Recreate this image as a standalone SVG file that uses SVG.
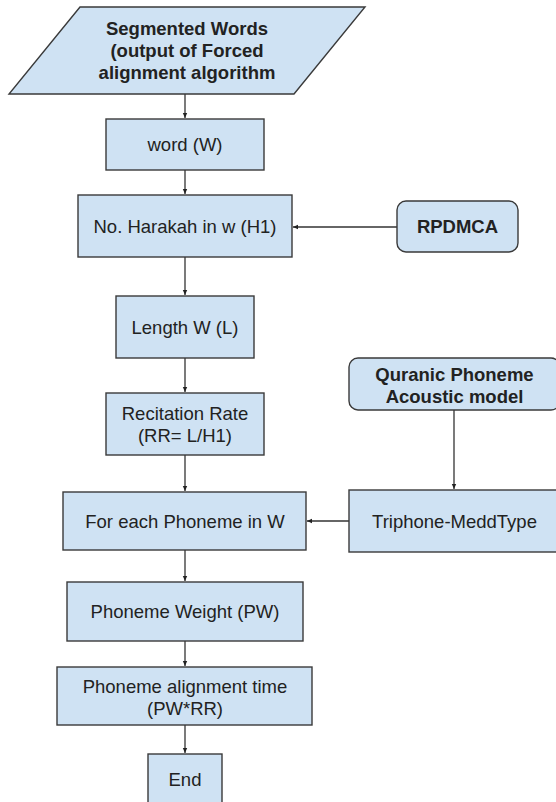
<svg xmlns="http://www.w3.org/2000/svg" width="556" height="802" viewBox="0 0 556 802">
<defs>
<marker id="ah" markerWidth="6" markerHeight="6" refX="5" refY="3" orient="auto" markerUnits="userSpaceOnUse">
<path d="M0,0.8 L5,3 L0,5.2 Z" fill="#222"/>
</marker>
</defs>
<style>
.n{fill:#cfe2f3;stroke:#3a3a3a;stroke-width:1.4}
.t{font-family:"Liberation Sans",Arial,sans-serif;font-size:18.5px;fill:#222;text-anchor:middle}
.b{font-weight:bold}
.c{stroke:#333;stroke-width:1.3;fill:none;marker-end:url(#ah)}
</style>
<rect width="556" height="802" fill="#ffffff"/>
<g id="connectors">
<line class="c" x1="185" y1="94" x2="185" y2="118"/>
<line class="c" x1="185" y1="170" x2="185" y2="194"/>
<line class="c" x1="185" y1="257" x2="185" y2="295"/>
<line class="c" x1="185" y1="358" x2="185" y2="392"/>
<line class="c" x1="185" y1="455" x2="185" y2="491"/>
<line class="c" x1="185" y1="550" x2="185" y2="581"/>
<line class="c" x1="185" y1="641" x2="185" y2="666"/>
<line class="c" x1="185" y1="725" x2="185" y2="753"/>
<line class="c" x1="397" y1="227" x2="293" y2="227"/>
<line class="c" x1="454" y1="410" x2="454" y2="489"/>
<line class="c" x1="349" y1="521" x2="307" y2="521"/>
</g>
<g id="segmented">
<polygon class="n" points="80,7 365,7 294,94 9,94"/>
<text class="t b" x="187" y="35">Segmented Words</text>
<text class="t b" x="187" y="57">(output of Forced</text>
<text class="t b" x="187" y="79">alignment algorithm</text>
</g>
<g id="word">
<rect class="n" x="106" y="119" width="158" height="51"/>
<text class="t" x="185" y="151">word (W)</text>
</g>
<g id="harakah">
<rect class="n" x="78" y="195" width="214" height="62"/>
<text class="t" x="185" y="233">No. Harakah in w (H1)</text>
</g>
<g id="rpdmca">
<rect class="n" x="397" y="201" width="121" height="51" rx="9"/>
<text class="t b" x="457.5" y="233">RPDMCA</text>
</g>
<g id="length">
<rect class="n" x="116" y="296" width="138" height="62"/>
<text class="t" x="185" y="333.5">Length W (L)</text>
</g>
<g id="rate">
<rect class="n" x="106" y="393" width="158" height="62"/>
<text class="t" x="185" y="419.5">Recitation Rate</text>
<text class="t" x="185" y="442">(RR= L/H1)</text>
</g>
<g id="quranic">
<rect class="n" x="349" y="358" width="211" height="52" rx="9"/>
<text class="t b" x="454.5" y="381">Quranic Phoneme</text>
<text class="t b" x="454.5" y="403">Acoustic model</text>
</g>
<g id="triphone">
<rect class="n" x="349" y="490" width="212" height="62"/>
<text class="t" x="454.5" y="527.5">Triphone-MeddType</text>
</g>
<g id="foreach">
<rect class="n" x="63" y="492" width="243" height="58"/>
<text class="t" x="185" y="527.5">For each Phoneme in W</text>
</g>
<g id="weight">
<rect class="n" x="67" y="582" width="236" height="59"/>
<text class="t" x="185" y="618">Phoneme Weight (PW)</text>
</g>
<g id="alignment">
<rect class="n" x="57" y="667" width="255" height="58"/>
<text class="t" x="185" y="692.5">Phoneme alignment time</text>
<text class="t" x="185" y="715">(PW*RR)</text>
</g>
<g id="end">
<rect class="n" x="148" y="754" width="74" height="54"/>
<text class="t" x="185" y="786">End</text>
</g>
</svg>
